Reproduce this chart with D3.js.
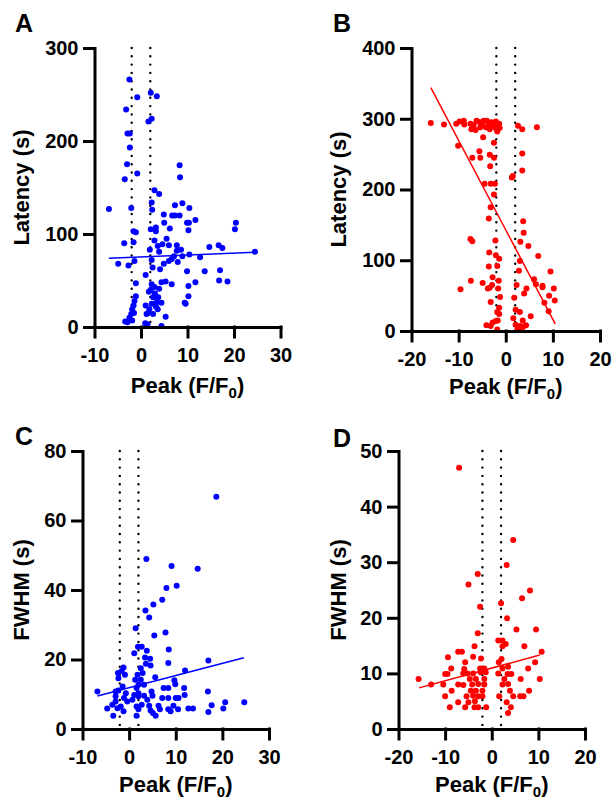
<!DOCTYPE html>
<html>
<head>
<meta charset="utf-8">
<script src="https://cdn.jsdelivr.net/npm/d3@7"></script>
<style>
  body { margin: 0; background: #fff; }
  svg text { font-family: "Liberation Sans", Arial, sans-serif; font-weight: bold; fill: #000; }
</style>
</head>
<body>
<div id="chart"></div>
<script>
// peak (F/F0) vs latency (s), blue cells
var latencyBlue = [[-2.5,266],[-0.8,247],[2.1,252],[3.4,248],[-3.2,234],[1.6,221],[2.3,224],[-2.9,208],[-2.4,208],[-2.4,193],[-3.0,175],[-3.5,159],[-0.8,165],[8.3,174],[8.4,161],[2.9,147],[3.9,143],[-6.9,127],[-2.1,128],[2.3,134],[2.4,126],[7.3,131],[8.9,133],[10.4,128],[4.9,121],[6.7,120],[7.3,120],[8.3,120],[9.9,112],[10.3,112],[11.7,115],[5.0,112],[20.4,112],[20.2,105],[10.2,104],[6.2,106],[3.2,107],[2.1,105],[3.2,103],[-1.6,103],[-1.1,102],[-3.6,90],[-1.6,91],[2.9,93],[3.6,87],[4.6,89],[5.5,95],[6.0,88],[7.7,88],[14.7,86],[16.7,88],[17.5,85],[24.5,81],[1.9,83],[3.9,81],[8.6,83],[7.7,82],[7.1,76],[8.9,76],[10.4,78],[12.7,75],[6.6,73],[6.0,71],[7.9,70],[2.3,72],[4.9,68],[-1.4,71],[-4.9,68],[-2.7,66],[2.5,64],[4.1,62],[9.9,60],[13.7,60],[17.0,61],[1.0,56],[16.8,50],[18.6,49],[11.7,48],[5.3,49],[4.4,48],[6.6,46],[-1.1,47],[2.3,46],[2.9,43],[3.9,41],[1.7,38],[10.2,44],[10.2,33],[9.6,25],[9.4,26],[-1.1,33],[-1.4,28],[-1.6,23],[-1.9,19],[-2.1,14],[-2.5,10],[-2.9,5],[-1.5,15],[-1.9,7],[2.1,40],[3.0,36],[3.7,32],[2.6,32],[3.4,27],[4.4,26],[2.3,25],[1.0,23],[3.2,22],[1.8,19],[3.6,19],[2.6,14],[1.2,14],[5.3,11],[0.9,4],[1.4,3],[4.4,1],[1.5,15],[-3.4,6]];

// peak vs latency, red cells
var latencyRed = [[-15.9,294],[-13.1,292],[-10.5,293],[-9.8,296],[-8.9,297],[-7.5,293],[-8.8,292],[-6.2,297],[-5.5,295],[-4.7,297],[-4.0,297],[-3.0,295],[-2.1,296],[-1.4,293],[-7.3,285],[-6.4,284],[-5.4,288],[-4.2,288],[-3.4,285],[-2.3,288],[-1.8,282],[-6.8,291],[-5.0,292],[-3.6,291],[-2.6,292],[-1.6,290],[-2.0,286],[-1.3,287],[-4.8,274],[-2.5,266],[-10.1,262],[-5.6,254],[-3.4,249],[-2.5,245],[-7.1,245],[-5.4,245],[-3.3,233],[2.6,290],[3.5,285],[6.6,288],[3.5,251],[3.5,227],[1.3,217],[1.5,219],[-4.5,208],[-3.2,208],[-2.3,208],[-2.5,193],[-3.2,175],[-3.6,159],[3.7,155],[3.8,139],[3.1,126],[4.8,120],[-7.5,130],[-7.1,127],[-2.2,128],[-3.5,111],[-2.1,107],[-1.4,102],[3.0,99],[6.9,106],[-3.6,91],[-1.8,92],[9.5,84],[2.8,85],[-7.4,71],[-4.9,68],[-2.8,76],[-2.9,65],[-1.5,71],[-3.4,61],[-3.8,60],[6.0,73],[6.4,66],[7.8,64],[7.8,62],[10.2,60],[2.3,65],[4.4,60],[-9.6,59],[3.9,53],[-1.6,60],[-1.2,48],[1.8,47],[9.2,50],[10.4,43],[-3.2,41],[8.2,40],[-1.4,33],[-1.8,27],[2.1,30],[3.0,27],[9.1,28],[-1.4,24],[5.3,21],[1.6,18],[-2.1,14],[-1.7,15],[-4.1,8],[-3.2,7],[-2.8,12],[-1.8,2],[2.1,9],[3.0,7],[2.5,3],[3.3,3],[4.3,8],[3.7,6],[3.6,15]];

// peak vs FWHM (s), blue cells
var fwhmBlue = [[18.7,66.8],[3.7,48.9],[9.1,46.9],[14.7,46.1],[10.2,41.2],[8.0,40.6],[7.1,37.2],[5.2,35.8],[3.5,34.1],[4.3,32.1],[1.4,29.0],[7.8,27.8],[5.4,26.9],[1.1,21.8],[1.9,23.7],[2.7,23.7],[3.8,22.5],[8.5,22.9],[3.4,20.6],[4.5,20.2],[8.4,19.0],[3.6,18.8],[4.6,18.3],[17.0,19.7],[2.5,17.5],[-1.2,17.7],[-1.6,16.7],[12.0,16.8],[-2.4,16.1],[-0.9,15.6],[2.9,16.1],[-2.3,14.6],[5.6,14.9],[2.5,14.2],[9.7,14.0],[9.9,12.9],[2.0,12.7],[3.2,12.7],[-1.4,12.2],[-2.3,11.1],[-6.8,10.8],[-2.9,10.8],[1.6,11.8],[4.8,10.8],[7.4,11.8],[8.4,11.8],[11.8,11.8],[16.9,10.8],[1.1,9.8],[2.0,9.4],[3.2,9.6],[5.0,9.6],[11.9,9.8],[-1.1,8.9],[-0.4,7.9],[3.9,8.4],[7.1,8.9],[8.4,8.9],[10.0,8.9],[10.6,8.9],[-2.9,7.9],[-3.6,7.0],[0.7,8.4],[20.6,7.7],[24.7,7.7],[-4.7,5.9],[-2.5,6.0],[-1.2,5.1],[-3.4,3.8],[1.6,3.8],[2.0,5.7],[4.3,6.7],[4.6,5.3],[6.3,6.7],[6.6,5.7],[5.7,3.8],[5.1,4.6],[8.4,5.7],[9.5,6.7],[10.5,5.7],[12.7,5.9],[13.7,5.9],[17.7,6.8],[17.0,4.9],[20.2,5.9],[-1.8,6.5],[2.7,7.0],[1.6,6.5],[2.0,10.3],[8.9,5.1],[-2.9,9.4],[-0.7,10.3],[1.3,14.2],[1.8,15.6]];

// peak vs FWHM, red cells
var fwhmRed = [[-7.0,47.0],[4.6,34.0],[3.2,29.5],[-3.0,27.9],[-5.0,26.0],[8.2,24.9],[6.5,23.5],[-2.5,22.0],[2.0,22.6],[3.3,19.9],[5.3,17.9],[9.5,17.9],[-3.0,17.2],[1.4,15.9],[2.3,15.9],[3.0,15.3],[2.3,14.9],[7.0,14.9],[-3.7,14.9],[-7.2,13.9],[-6.4,13.9],[10.7,13.9],[-9.4,12.9],[-4.0,13.0],[-2.3,12.7],[2.1,12.6],[-5.7,12.0],[9.3,12.0],[-8.7,10.9],[-5.9,10.8],[-2.5,10.9],[-1.6,10.9],[1.5,12.0],[2.3,10.9],[3.5,11.2],[7.8,10.9],[-10.0,9.9],[-9.5,9.9],[-6.1,10.0],[-5.2,10.0],[-4.0,10.0],[-2.4,10.2],[-1.3,10.2],[1.4,10.0],[3.4,9.9],[4.2,9.9],[-15.7,9.0],[-4.7,9.0],[-3.4,9.0],[-1.6,9.0],[2.7,9.0],[6.2,9.0],[10.3,9.0],[-13.0,8.0],[-10.4,8.0],[-7.2,8.0],[-6.1,7.9],[-4.2,8.0],[-2.9,8.1],[-1.6,8.0],[2.3,8.0],[3.5,8.1],[-8.6,6.9],[-4.5,6.9],[-3.4,6.9],[-2.0,6.9],[3.9,6.9],[8.0,6.9],[-10.0,5.9],[-5.4,5.9],[-4.0,6.0],[-2.9,5.9],[-2.0,5.9],[1.6,5.9],[4.6,5.9],[6.1,5.9],[6.8,5.9],[-7.2,4.8],[-5.0,4.8],[-3.6,5.0],[3.2,4.8],[-9.0,3.9],[-5.7,3.9],[-3.7,3.9],[-2.9,3.9],[-1.2,3.9],[4.1,3.9],[3.5,2.9]];

// fitted lines (end points)
var fitA = [[-6.9,73.8],[24.5,80.4]];
var fitB = [[-15.9,344],[10.5,10]];
var fitC = [[-6.8,9.5],[24.6,20.5]];
var fitD = [[-15.6,7.4],[10.3,13.3]];

var thresholds = [-2, 2];

var xTicksBlue = [-10, 0, 10, 20, 30];
var xTicksRed = [-20, -10, 0, 10, 20];
var yTicksA = [0, 100, 200, 300];
var yTicksB = [0, 100, 200, 300, 400];
var yTicksC = [0, 20, 40, 60, 80];
var yTicksD = [0, 10, 20, 30, 40, 50];

var width = 613, height = 800;
var blue = "#0000ff", red = "#ff0000";

var svg = d3.select("#chart")
    .append("svg")
    .attr("width", width)
    .attr("height", height);

var panels = [
    {letter: "A", pts: latencyBlue, fit: fitA, color: blue, xTicks: xTicksBlue, yTicks: yTicksA,
     yTitle: "Latency (s)", left: 94.5, right: 280.5, top: 48, bottom: 327, lx: 15, ly: 32, tx: 29, xtOff: 66},
    {letter: "B", pts: latencyRed, fit: fitB, color: red, xTicks: xTicksRed, yTicks: yTicksB,
     yTitle: "Latency (s)", left: 411.5, right: 600, top: 48, bottom: 331, lx: 333, ly: 32, tx: 346, xtOff: 63},
    {letter: "C", pts: fwhmBlue, fit: fitC, color: blue, xTicks: xTicksBlue, yTicks: yTicksC,
     yTitle: "FWHM (s)", left: 82.5, right: 269, top: 451, bottom: 729, lx: 15, ly: 445, tx: 29, xtOff: 63},
    {letter: "D", pts: fwhmRed, fit: fitD, color: red, xTicks: xTicksRed, yTicks: yTicksD,
     yTitle: "FWHM (s)", left: 398.5, right: 585, top: 451, bottom: 729, lx: 333, ly: 447, tx: 346, xtOff: 63}
];

panels.forEach(function (p) {
    var x = d3.scaleLinear()
        .domain(d3.extent(p.xTicks))
        .range([p.left, p.right]);
    var y = d3.scaleLinear()
        .domain(d3.extent(p.yTicks))
        .range([p.bottom, p.top]);

    var g = svg.append("g");

    // dotted threshold lines
    g.selectAll("line.thr")
        .data(thresholds)
        .enter()
        .append("line")
        .attr("class", "thr")
        .attr("x1", function (d) { return x(d); })
        .attr("x2", function (d) { return x(d); })
        .attr("y1", y.range()[1])
        .attr("y2", y.range()[0])
        .attr("stroke", "#000")
        .attr("stroke-width", 2.4)
        .attr("stroke-linecap", "round")
        .attr("stroke-dasharray", "0,8.3");

    g.selectAll("circle")
        .data(p.pts)
        .enter()
        .append("circle")
        .attr("cx", function (d) { return x(d[0]); })
        .attr("cy", function (d) { return y(d[1]); })
        .attr("r", 3)
        .attr("fill", p.color);

    var line = d3.line()
        .x(function (d) { return x(d[0]); })
        .y(function (d) { return y(d[1]); });
    g.append("path")
        .attr("d", line(p.fit))
        .attr("fill", "none")
        .attr("stroke", p.color)
        .attr("stroke-width", 1.5);

    // axes (plain hyphen for negatives, like the original)
    var fmt = function (d) { return String(d); };
    var xAxis = g.append("g")
        .attr("transform", "translate(0," + p.bottom + ")")
        .call(d3.axisBottom(x).tickValues(p.xTicks).tickFormat(fmt)
            .tickSize(10).tickSizeOuter(0).tickPadding(11));
    var yAxis = g.append("g")
        .attr("transform", "translate(" + p.left + ",0)")
        .call(d3.axisLeft(y).tickValues(p.yTicks).tickFormat(fmt)
            .tickSize(10).tickSizeOuter(0).tickPadding(6));

    [xAxis, yAxis].forEach(function (a) {
        a.attr("font-size", 20).attr("font-family", null);
        a.selectAll("path, line")
            .attr("stroke", "#000")
            .attr("stroke-width", 3)
            .attr("stroke-linecap", "square");
        a.selectAll("text").attr("fill", "#000");
    });

    // titles
    g.append("text")
        .attr("transform", "translate(" + p.tx + "," + ((p.top + p.bottom) / 2) + ") rotate(-90)")
        .attr("text-anchor", "middle")
        .attr("font-size", 22)
        .text(p.yTitle);

    var xt = g.append("text")
        .attr("x", (p.left + p.right) / 2)
        .attr("y", p.bottom + p.xtOff)
        .attr("text-anchor", "middle")
        .attr("font-size", 22);
    xt.append("tspan").text("Peak (F/F");
    xt.append("tspan").attr("dy", 5).attr("font-size", 15).text("0");
    xt.append("tspan").attr("dy", -5).text(")");

    g.append("text")
        .attr("x", p.lx)
        .attr("y", p.ly)
        .attr("font-size", 25)
        .text(p.letter);
});
</script>
</body>
</html>
